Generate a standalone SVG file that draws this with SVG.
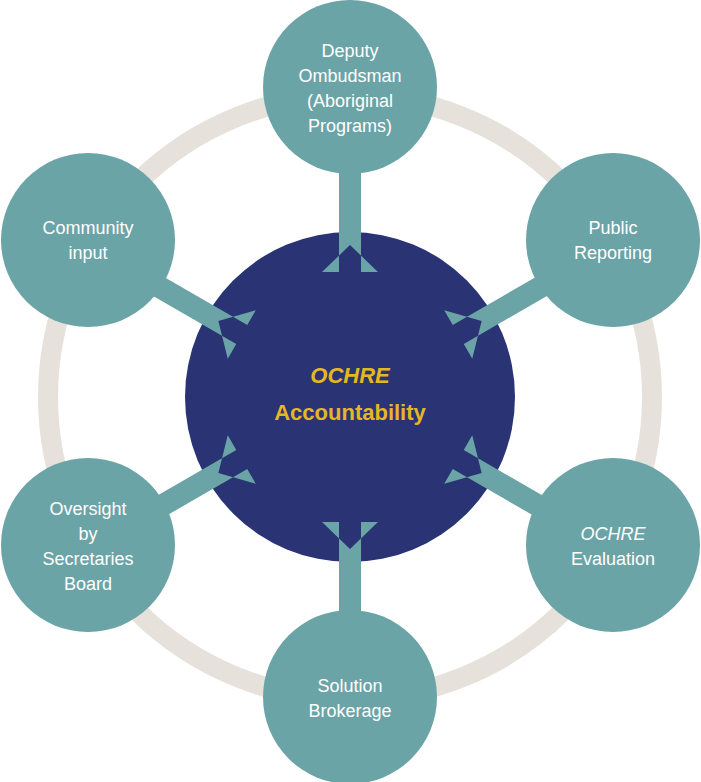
<svg xmlns="http://www.w3.org/2000/svg" width="701" height="782" viewBox="0 0 701 782">
<style>
.n{fill:#6BA4A7}
.a{fill:#6BA4A7}
.t{font-family:"Liberation Sans",Arial,sans-serif;font-size:18px;fill:#fff;text-anchor:middle}
.c{font-family:"Liberation Sans",Arial,sans-serif;font-size:22px;font-weight:bold;fill:#E5B723;text-anchor:middle}
</style>
<defs>
<polygon id="arr" points="339,172 361,172 361,272 378,272 350,245 322,272 339,272"/>
</defs>
<rect width="701" height="782" fill="#fff"/>
<circle cx="350" cy="397" r="302" fill="none" stroke="#E6E1DB" stroke-width="20"/>
<g id="center"><circle cx="350" cy="397" r="165" fill="#2A3474"/>
<text class="c" x="350" y="383" font-style="italic">OCHRE</text>
<text class="c" x="350" y="420">Accountability</text></g>
<g id="connectors">
<use href="#arr" class="a"/>
<use href="#arr" class="a" transform="rotate(60 350 397)"/>
<use href="#arr" class="a" transform="rotate(120 350 397)"/>
<use href="#arr" class="a" transform="rotate(180 350 397)"/>
<use href="#arr" class="a" transform="rotate(240 350 397)"/>
<use href="#arr" class="a" transform="rotate(300 350 397)"/>
</g>
<g id="deputy"><circle class="n" cx="350" cy="87" r="87"/>
<text class="t" x="350" y="57">Deputy</text><text class="t" x="350" y="82">Ombudsman</text><text class="t" x="350" y="107">(Aboriginal</text><text class="t" x="350" y="132">Programs)</text></g>
<g id="public"><circle class="n" cx="613" cy="240" r="87"/>
<text class="t" x="613" y="234">Public</text><text class="t" x="613" y="259">Reporting</text></g>
<g id="evaluation"><circle class="n" cx="613" cy="545" r="87"/>
<text class="t" x="613" y="540" font-style="italic">OCHRE</text><text class="t" x="613" y="565">Evaluation</text></g>
<g id="brokerage"><circle class="n" cx="350" cy="697" r="87"/>
<text class="t" x="350" y="692">Solution</text><text class="t" x="350" y="717">Brokerage</text></g>
<g id="oversight"><circle class="n" cx="88" cy="545" r="87"/>
<text class="t" x="88" y="515">Oversight</text><text class="t" x="88" y="540">by</text><text class="t" x="88" y="565">Secretaries</text><text class="t" x="88" y="590">Board</text></g>
<g id="community"><circle class="n" cx="88" cy="240" r="87"/>
<text class="t" x="88" y="234">Community</text><text class="t" x="88" y="259">input</text></g>
</svg>
